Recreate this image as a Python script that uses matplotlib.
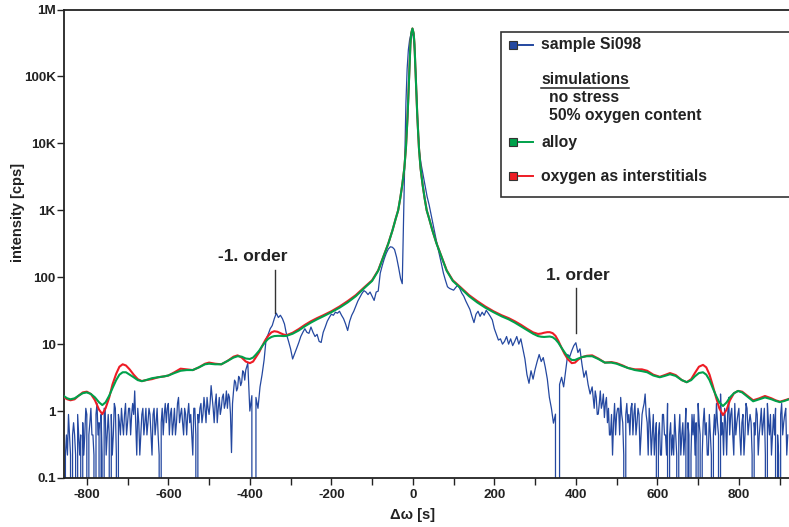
import numpy as np
import matplotlib
matplotlib.use("Agg")
import matplotlib.pyplot as plt
from matplotlib.lines import Line2D
from matplotlib.patches import Rectangle
from matplotlib.ticker import FixedLocator, FixedFormatter, MultipleLocator

plt.rcParams['font.family'] = ['Liberation Sans', 'DejaVu Sans']
plt.rcParams['font.weight'] = 'bold'

# ---------------- measured rocking curve (sample Si098) ----------------
# far left wing, 2.5 s steps
wing_left_x = np.arange(-855, -409, 2.5)
wing_left = [
    0, 0.22, 0.44, 0.22, 0.89, 0.44, 0.22, 0, 0.44, 0.67,
    0.44, 0.22, 0, 0.89, 0.44, 0.22, 0.44, 0, 0.67, 0.22,
    0.44, 1.1, 0.89, 0, 0.44, 0.67, 1.1, 0.44, 0.44, 0.22,
    0, 0.89, 1.3, 0.44, 0.67, 0, 0.89, 0.22, 0, 1.1,
    1.1, 0.22, 0.44, 0.89, 0.44, 0, 0.89, 0.22, 0.44, 1.3,
    1.1, 0.22, 0, 0.89, 0.67, 0.44, 1.1, 0.67, 0.44, 0.89,
    1.3, 0.44, 0.67, 1.1, 1.1, 0.44, 0.89, 1.3, 0.89, 2.0,
    0.67, 0.22, 1.1, 0.67, 0.22, 0.44, 0.89, 1.1, 0.44, 0.67,
    1.1, 0.44, 0.67, 1.1, 0.89, 0.44, 0.22, 0.89, 1.1, 0.44,
    0.67, 1.1, 0.44, 0.22, 0, 0.67, 1.1, 0.44, 0.89, 1.3,
    0.67, 1.1, 1.3, 0.44, 0.89, 1.1, 0.44, 0.67, 1.1, 0.44,
    0.67, 1.3, 1.6, 0.67, 0.89, 1.1, 0.67, 0.44, 1.1, 0.89,
    0.44, 0.89, 1.3, 0.67, 0.89, 0.44, 0.22, 1.1, 1.1, 0.44,
    0, 0.89, 0.67, 1.1, 1.3, 0.67, 0.89, 1.6, 1.1, 0.67,
    1.6, 1.1, 0.89, 1.3, 2.4, 1.6, 1.1, 0.67, 1.3, 1.8,
    0.67, 1.1, 1.6, 0.89, 1.1, 1.6, 1.8, 1.1, 1.3, 2.0,
    1.1, 1.8, 1.6, 0.9, 0.24, 1.3, 2.0, 2.9, 2.7, 2.0,
    2.2, 3.3, 3.1, 2.4, 2.7, 4.0, 3.8, 2.9, 4.1,
]
# inner left flank, 5 s steps
flank_left_x = np.arange(-405, -44, 5)
flank_left = [
    5.2, 1.0, 1.7, 0, 1.6, 1.1, 2.3, 3.5, 5.8, 12,
    14, 17, 19, 24, 29, 25, 27, 24, 20, 14,
    11, 8.5, 6.0, 7.2, 8.7, 10.5, 13, 15, 17, 15,
    14.5, 18, 15, 13, 14, 11, 10.6, 15, 18, 22,
    25, 28, 27, 30, 29, 31, 27, 24, 20, 16,
    22, 27, 31, 37, 44, 50, 57, 63, 60, 55,
    60, 52, 45, 60, 62, 115, 150, 190, 230, 265,
    285, 280, 260,
]
# main peak
peak_x = [-40, -35, -30, -26, -23, -20, -17, -14, -11, -8, -5, -2,
          1, 4, 7, 10, 13, 16, 20, 25, 30, 35, 40]
peak = [200, 140, 95, 80, 600, 5000, 40000, 130000, 250000, 350000,
        420000, 440000, 400000, 260000, 110000, 40000, 15000, 7500,
        5000, 3400, 2300, 1600, 1200]
# inner right flank, 5 s steps
flank_right_x = np.arange(45, 436, 5)
flank_right = [
    850, 600, 420, 300, 220, 160, 115, 90, 72, 68,
    66, 64, 70, 76, 68, 58, 52, 44, 38, 33,
    26, 21, 28, 31, 26, 30, 27, 32, 29, 26,
    23, 17, 14, 11.5, 12, 10, 11, 13, 10, 12,
    9.5, 11, 13, 10, 12, 8.5, 6, 3.5, 2.6, 4,
    3, 4.2, 5.5, 7, 5.5, 6.3, 4.5, 3, 1.6, 1.1,
    0.66, 0.9, 0, 2.5, 3.2, 2.3, 4, 7, 6.5, 8,
    9.5, 10.5, 7.5, 8.5, 5, 3.2, 4, 2.5, 1.8,
]
# far right wing, 2.5 s steps
wing_right_x = np.arange(440, 921, 2.5)
wing_right = [
    2.3, 1.6, 1.1, 2.0, 1.6, 0.89, 0.9, 1.3, 2.0, 1.1,
    1.3, 1.8, 0.8, 1.3, 1.6, 0.67, 1.1, 0.44, 0.44, 0.89,
    0.22, 0.67, 1.3, 0.44, 0.89, 1.1, 1.1, 0.44, 1.6, 0.89,
    0.67, 0.22, 0, 0.89, 1.3, 0.67, 0.89, 0.44, 1.1, 1.3,
    0.44, 0.89, 1.3, 0.44, 0.67, 1.1, 0.89, 0.22, 0.44, 0.89,
    1.1, 1.3, 1.8, 0.89, 0.67, 0.22, 1.1, 0.67, 0.22, 0.44,
    0.89, 0.22, 0.44, 0.67, 0, 0.44, 0.67, 0.22, 0.22, 0.89,
    0.89, 0.44, 0.44, 0.22, 1.3, 0, 0.44, 0.67, 0.22, 0.44,
    0.22, 0.89, 0.44, 0.22, 0, 0.44, 0.89, 0.22, 0.44, 0.67,
    0.22, 0.44, 1.1, 0, 0.67, 0.44, 0, 0.22, 0.89, 0.44,
    0.89, 0.22, 0.67, 0, 1.3, 0.67, 0.44, 0, 0.22, 0.67,
    1.1, 0.44, 0.67, 0.22, 0.22, 0.89, 0.44, 0.22, 0, 0.44,
    0.89, 0.44, 1.3, 0.67, 0.44, 0, 1.8, 0.44, 0.67, 0.22,
    1.1, 0.67, 0.22, 0.89, 1.6, 0.44, 0.89, 1.1, 0.44, 0.22,
    1.3, 0.44, 0.67, 0.89, 1.1, 0.44, 0.22, 0.67, 0.89, 0.22,
    0.44, 1.3, 1.1, 0.44, 0.67, 0.89, 0.67, 0.22, 0, 0.67,
    0.44, 1.1, 0.89, 0.22, 0.44, 0.67, 1.1, 0.44, 0.67, 1.1,
    0.22, 0, 1.3, 0.67, 0.44, 0.89, 0.22, 0.44, 0.89, 0.44,
    1.1, 0, 0.44, 0.22, 0, 0.89, 1.3, 0.44, 0.67, 0.89,
    1.1, 0.22, 0.44,
]

# ---------------- simulations (no stress, 50% oxygen content) ----------------
sim_x = [
    -856, -848, -840, -830, -820, -810, -800, -790, -780, -770,
    -762, -754, -745, -737, -728, -720, -712, -704, -695, -685,
    -675, -665, -655, -640, -625, -610, -600, -585, -570, -555,
    -540, -525, -510, -500, -485, -470, -455, -440, -430, -420,
    -410, -400, -392, -385, -377, -370, -362, -355, -347, -340,
    -332, -325, -317, -310, -295, -280, -265, -250, -235, -220,
    -200, -180, -160, -140, -120, -100, -85, -70, -60, -50,
    -42, -36, -31, -26, -21, -17, -13, -10, -8, -6,
    -4, -1, 2, 4, 6, 8, 11, 15, 19, 24,
    29, 34, 40, 48, 58, 68, 83, 98, 118, 138,
    158, 178, 198, 218, 235, 250, 265, 280, 295, 307,
    315, 322, 330, 336, 343, 350, 357, 365, 372, 380,
    390, 398, 406, 415, 427, 440, 455, 471, 487, 500,
    515, 528, 545, 562, 575, 590, 606, 618, 631, 645,
    660, 672, 683, 692, 702, 712, 720, 728, 736, 744,
    752, 761, 770, 778, 788, 798, 808, 818, 835, 850,
    864, 880, 890, 901, 912, 923,
]
alloy = [
    1.67, 1.55, 1.5, 1.55, 1.7, 1.85, 1.9, 1.8, 1.6, 1.35,
    1.23, 1.35, 1.7, 2.2, 2.9, 3.5, 3.8, 3.8, 3.5, 3.2,
    2.9, 2.8, 2.9, 3.1, 3.2, 3.3, 3.4, 3.7, 4.0, 4.1,
    4.1, 4.5, 5.0, 5.1, 5.0, 5.0, 5.6, 6.3, 6.6, 6.5,
    6.1, 6.0, 6.3, 7.0, 8.0, 9.3, 10.8, 12.0, 12.8, 13.2,
    13.3, 13.3, 13.2, 13.3, 14.3, 16.0, 18.5, 21, 23.5, 26,
    30, 35, 42, 52, 68, 88, 125, 220, 320, 500,
    750, 1000, 1500, 2400, 4200, 8500, 25000, 70000, 150000, 300000,
    440000, 520000, 440000, 300000, 150000, 70000, 25000, 8500, 4200, 2400,
    1500, 1000, 750, 500, 320, 220, 125, 88, 68, 52,
    42, 35, 30, 26, 23.5, 21, 18.5, 16.3, 14.3, 13.2,
    12.9, 12.8, 12.9, 13.0, 12.7, 11.8, 10.5, 8.8, 7.6, 6.5,
    5.8, 5.8, 6.1, 6.4, 6.6, 6.6, 6.0, 5.3, 5.3, 5.1,
    4.7, 4.4, 4.1, 3.95, 3.8, 3.4, 3.2, 3.35, 3.55, 3.35,
    2.9, 2.7, 2.9, 3.3, 3.7, 3.8, 3.5, 2.9, 2.2, 1.7,
    1.35, 1.19, 1.35, 1.6, 1.85, 2.0, 1.9, 1.7, 1.4, 1.5,
    1.6, 1.5, 1.42, 1.36, 1.42, 1.5,
]
interstitial = [
    1.6, 1.5, 1.45, 1.5, 1.7, 1.9, 1.95, 1.8, 1.45, 1.05,
    0.9, 1.1, 1.6, 2.5, 3.6, 4.6, 5.0, 4.8, 4.2, 3.5,
    3.0, 2.8, 2.9, 3.0, 3.2, 3.3, 3.4, 3.8, 4.3, 4.2,
    4.1, 4.5, 5.1, 5.3, 5.1, 5.0, 5.6, 6.5, 6.8, 6.3,
    5.5, 5.2, 5.5, 6.4, 7.6, 9.3, 11.5, 13.3, 15.0, 15.6,
    15.3, 14.6, 13.9, 13.6, 14.8, 16.8, 19.4, 22, 24.5, 27,
    31, 36.5, 44, 54, 70, 90, 127, 222, 322, 502,
    752, 1000, 1500, 2400, 4200, 8500, 25000, 70000, 150000, 300000,
    440000, 520000, 440000, 300000, 150000, 70000, 25000, 8500, 4200, 2400,
    1500, 1000, 752, 502, 322, 222, 127, 90, 70, 54,
    44, 36.5, 31, 27, 24.5, 22, 19.5, 17.0, 15.0, 14.2,
    14.4, 14.8, 15.1, 15.1, 14.6, 13.3, 11.2, 8.8, 7.2, 6.0,
    5.2, 5.3, 5.9, 6.4, 6.7, 6.8, 6.1, 5.3, 5.4, 5.2,
    4.8, 4.4, 4.2, 4.2, 4.0, 3.5, 3.25, 3.45, 3.7, 3.45,
    2.9, 2.7, 3.0, 3.7, 4.6, 4.9, 4.5, 3.5, 2.4, 1.6,
    1.1, 0.87, 1.05, 1.45, 1.85, 2.0, 1.95, 1.75, 1.45, 1.55,
    1.68, 1.55, 1.45, 1.38, 1.45, 1.52,
]

y_ticks = [0.1, 1, 10, 100, 1e3, 1e4, 1e5, 1e6]
y_tick_labels = ["0.1", "1", "10", "100", "1K", "10K", "100K", "1M"]
x_ticks = [-800, -600, -400, -200, 0, 200, 400, 600, 800]
x_tick_labels = ["-800", "-600", "-400", "-200", "0", "200", "400", "600", "800"]

BLUE = "#2448a0"
GREEN = "#00a14b"
RED = "#ee1c25"
INK = "#222222"

W, H = 789, 527
fig = plt.figure(figsize=(W / 100, H / 100), dpi=100)
ax = fig.add_axes([64 / W, 1 - 478 / H, 1 - 64 / W, (478 - 9.5) / H])

sample_x = np.concatenate([wing_left_x, flank_left_x, peak_x,
                           flank_right_x, wing_right_x])
sample_y = np.array(wing_left + flank_left + peak + flank_right + wing_right,
                    dtype=float)

ax.set_yscale("log", nonpositive="clip")
ax.plot(sample_x, sample_y, color=BLUE, lw=0.9, zorder=2)
ax.plot(sim_x, interstitial, color=RED, lw=1.5, zorder=3)
ax.plot(sim_x, alloy, color=GREEN, lw=1.5, zorder=4)

ax.set_xlim(-856, 923)
ax.set_ylim(0.1, 1e6)

ax.yaxis.set_major_locator(FixedLocator(y_ticks))
ax.yaxis.set_major_formatter(FixedFormatter(y_tick_labels))
ax.yaxis.set_minor_locator(FixedLocator([]))
ax.xaxis.set_major_locator(FixedLocator(x_ticks))
ax.xaxis.set_major_formatter(FixedFormatter(x_tick_labels))
ax.xaxis.set_minor_locator(MultipleLocator(200, offset=100))

ax.tick_params(axis="both", which="both", direction="out", length=5, width=1,
               color=INK, labelcolor=INK, labelsize=9.7)
ax.tick_params(axis="y", pad=1)
ax.tick_params(axis="x", pad=3)
for lab in ax.get_xticklabels() + ax.get_yticklabels():
    lab.set_fontweight("bold")

for side in ("left", "bottom", "top"):
    ax.spines[side].set_linewidth(1.3)
    ax.spines[side].set_color(INK)
ax.spines["right"].set_visible(False)

# axis titles
fig.text(18 / W, 1 - 212 / H, "intensity [cps]", rotation=90, ha="center",
         va="center", fontsize=10.5, fontweight="bold", color=INK)
fig.text(413 / W, 1 - 515 / H, "\u0394\u03c9 [s]", ha="center", va="center",
         fontsize=10.5, fontweight="bold", color=INK)

# satellite order annotations
ax.text(-394, 206, "-1. order", ha="center", va="center", fontsize=12.5,
        fontweight="bold", color=INK)
ax.plot([-337.4, -337.4], [127, 29], color="#333333", lw=1, zorder=5)
ax.text(404, 106, "1. order", ha="center", va="center", fontsize=12.5,
        fontweight="bold", color=INK)
ax.plot([400, 400], [68.5, 14.6], color="#333333", lw=1, zorder=5)


# legend box drawn in figure pixel units
def fx(px):
    return px / W


def fy(py):
    return 1 - py / H


fig.patches.append(Rectangle((fx(500.7), fy(197)), 0.5, fy(32) - fy(197),
                             transform=fig.transFigure, facecolor="white",
                             edgecolor="#333333", lw=1.2, zorder=10))

entries = [(44.7, BLUE, "sample Si098"), (142, GREEN, "alloy"),
           (176, RED, "oxygen as interstitials")]
for py, col, label in entries:
    fig.lines.append(Line2D([fx(513), fx(533)], [fy(py), fy(py)], color=col,
                            lw=1.4, transform=fig.transFigure, zorder=11))
    fig.lines.append(Line2D([fx(513)], [fy(py)], marker="s", markersize=6,
                            markerfacecolor=col, markeredgecolor="#333333",
                            markeredgewidth=0.8, linestyle="none",
                            transform=fig.transFigure, zorder=12))
    fig.text(fx(541), fy(py), label, ha="left", va="center", fontsize=11.3,
             fontweight="bold", color=INK, zorder=12)

fig.text(fx(541), fy(80), "simulations", ha="left", va="center", fontsize=11.3,
         fontweight="bold", color=INK, zorder=12)
fig.lines.append(Line2D([fx(541), fx(629)], [fy(88), fy(88)], color=INK, lw=1.1,
                        transform=fig.transFigure, zorder=12))
fig.text(fx(549), fy(98), "no stress", ha="left", va="center", fontsize=11.3,
         fontweight="bold", color=INK, zorder=12)
fig.text(fx(549), fy(115.5), "50% oxygen content", ha="left", va="center",
         fontsize=11.3, fontweight="bold", color=INK, zorder=12)

fig.savefig("out.png", dpi=100)
